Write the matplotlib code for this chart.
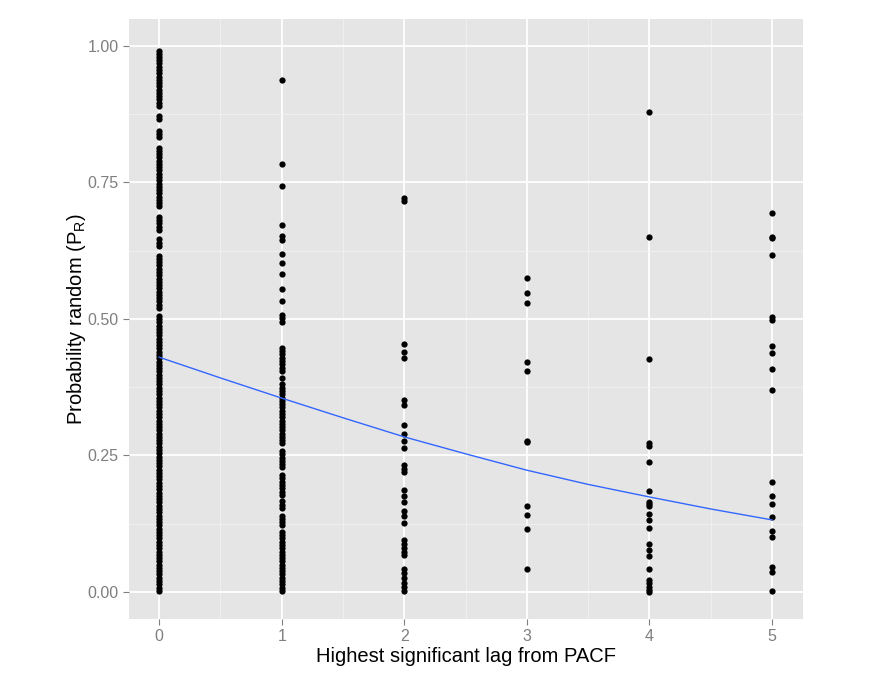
import matplotlib
matplotlib.use("Agg")
import matplotlib.pyplot as plt
from matplotlib.ticker import FixedLocator

plt.rcParams['font.family'] = ['Liberation Sans', 'DejaVu Sans']
plt.rcParams['mathtext.fontset'] = 'custom'
plt.rcParams['mathtext.rm'] = 'Liberation Sans'

# ---- data ----
lag0 = [0.002, 0.008, 0.014, 0.020, 0.026, 0.032, 0.038, 0.044, 0.050, 0.056,
        0.062, 0.068, 0.074, 0.080, 0.086, 0.092, 0.098, 0.104, 0.110, 0.116,
        0.122, 0.128, 0.134, 0.140, 0.146, 0.152, 0.158, 0.164, 0.170, 0.176,
        0.182, 0.188, 0.194, 0.200, 0.206, 0.212, 0.218, 0.224, 0.230, 0.236,
        0.242, 0.248, 0.254, 0.260, 0.266, 0.272, 0.278, 0.284, 0.290, 0.296,
        0.302, 0.308, 0.314, 0.320, 0.326, 0.332, 0.338, 0.344, 0.350, 0.356,
        0.362, 0.368, 0.374, 0.380, 0.386, 0.392, 0.398, 0.404, 0.410, 0.416,
        0.422, 0.428, 0.434, 0.440, 0.446, 0.452, 0.458, 0.464, 0.470, 0.476,
        0.482, 0.488, 0.494, 0.500, 0.506, 0.520, 0.526, 0.532, 0.538, 0.544,
        0.550, 0.556, 0.562, 0.568, 0.574, 0.580, 0.586, 0.592, 0.598, 0.604,
        0.610, 0.616, 0.634, 0.640, 0.646, 0.663, 0.669, 0.675, 0.681, 0.687,
        0.706, 0.712, 0.718, 0.724, 0.730, 0.736, 0.742, 0.748, 0.754, 0.760,
        0.766, 0.772, 0.778, 0.784, 0.790, 0.796, 0.802, 0.808, 0.814, 0.833,
        0.839, 0.845, 0.866, 0.872, 0.890, 0.896, 0.902, 0.908, 0.914, 0.920,
        0.926, 0.932, 0.938, 0.944, 0.950, 0.956, 0.962, 0.968, 0.974, 0.980,
        0.986, 0.991]
lag1 = [0.938, 0.784, 0.744, 0.672, 0.652, 0.645, 0.619, 0.603, 0.582, 0.555,
        0.533, 0.507, 0.501, 0.495,
        0.447, 0.441, 0.435, 0.429, 0.423, 0.417, 0.411, 0.405, 0.392, 0.380,
        0.374, 0.368, 0.362, 0.356, 0.350, 0.344, 0.338, 0.332, 0.326, 0.320,
        0.314, 0.308, 0.302, 0.296, 0.290, 0.284, 0.278, 0.272, 0.258, 0.252,
        0.246, 0.240, 0.234, 0.228, 0.214, 0.208, 0.202, 0.196, 0.190, 0.184,
        0.178, 0.166, 0.160, 0.154, 0.140, 0.134, 0.128, 0.122, 0.110, 0.104,
        0.098, 0.092, 0.086, 0.080, 0.074, 0.068, 0.062, 0.056, 0.050, 0.044,
        0.038, 0.032, 0.026, 0.020, 0.014, 0.008, 0.002]
lag2 = [0.722, 0.716, 0.454, 0.440, 0.429, 0.352, 0.342, 0.306, 0.289, 0.277,
        0.264, 0.233, 0.225, 0.219, 0.187, 0.175, 0.165, 0.149, 0.139, 0.126,
        0.095, 0.087, 0.080, 0.074, 0.068, 0.042, 0.034, 0.026, 0.016, 0.010,
        0.002]
lag3 = [0.575, 0.548, 0.529, 0.421, 0.405, 0.277, 0.274, 0.158, 0.141, 0.115,
        0.042]
lag4 = [0.879, 0.651, 0.426, 0.273, 0.268, 0.238, 0.185, 0.165, 0.161, 0.157,
        0.143, 0.131, 0.117, 0.087, 0.077, 0.065, 0.042, 0.022, 0.016, 0.010,
        0.004, 0.000]
lag5 = [0.694, 0.651, 0.649, 0.618, 0.504, 0.498, 0.451, 0.437, 0.408, 0.370,
        0.201, 0.175, 0.162, 0.138, 0.112, 0.101, 0.046, 0.036, 0.001]
groups = [lag0, lag1, lag2, lag3, lag4, lag5]

fit_x = [0, 0.5, 1, 1.5, 2, 2.5, 3, 3.5, 4, 4.5, 5]
fit_y = [0.430, 0.392, 0.355, 0.319, 0.284, 0.253, 0.223, 0.197, 0.174, 0.152, 0.132]

x_ticks = [0, 1, 2, 3, 4, 5]
y_ticks = [0.00, 0.25, 0.50, 0.75, 1.00]
y_tick_labels = ["0.00", "0.25", "0.50", "0.75", "1.00"]

# ---- figure ----
fig = plt.figure(figsize=(8.72, 6.74), dpi=100)
ax = fig.add_axes([0.1474, 0.0812, 0.9205 - 0.1474, 0.9723 - 0.0812])
ax.set_facecolor('#E5E5E5')
for s in ax.spines.values():
    s.set_visible(False)

ax.set_xlim(-0.25, 5.25)
ax.set_ylim(-0.05, 1.05)
ax.xaxis.set_major_locator(FixedLocator(x_ticks))
ax.yaxis.set_major_locator(FixedLocator(y_ticks))
ax.set_yticklabels(y_tick_labels)
ax.xaxis.set_minor_locator(FixedLocator([0.5, 1.5, 2.5, 3.5, 4.5]))
ax.yaxis.set_minor_locator(FixedLocator([0.125, 0.375, 0.625, 0.875]))
ax.grid(which='major', color='white', linewidth=1.3)
ax.grid(which='minor', color='#F2F2F2', linewidth=0.6)
ax.set_axisbelow(True)
ax.tick_params(which='major', direction='out', length=4, width=0.8,
               color='#7F7F7F', labelcolor='#7F7F7F', labelsize=11.5, pad=3)
ax.tick_params(which='minor', length=0)

for xi, vals in zip(x_ticks, groups):
    ax.plot([xi] * len(vals), vals, linestyle='none', marker='o',
            markersize=4.5, color='black', markeredgewidth=0, zorder=3)

ax.plot(fit_x, fit_y, color='#3366FF', linewidth=1.0, zorder=4)

ax.set_xlabel('Highest significant lag from PACF', fontsize=14.5, labelpad=2)
ax.set_ylabel('Probability random (P$_\\mathregular{R}$)', fontsize=14.5, labelpad=0)

fig.savefig('out.png', dpi=100)
